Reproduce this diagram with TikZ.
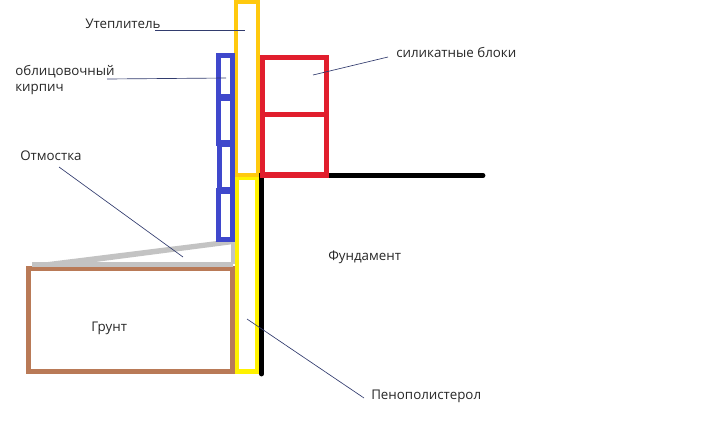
\documentclass[tikz,border=0pt]{standalone}
\usepackage{fontspec}
\setmainfont{Open Sans}
\definecolor{cOrange}{RGB}{255,201,14}
\definecolor{cYellow}{RGB}{255,242,0}
\definecolor{cBlue}{RGB}{63,72,204}
\definecolor{cRed}{RGB}{225,30,45}
\definecolor{cBrown}{RGB}{185,122,87}
\definecolor{cGray}{RGB}{195,195,195}
\definecolor{cLead}{RGB}{50,60,110}
\tikzset{
 lbl/.style={anchor=west,inner sep=0pt,font=\fontsize{10pt}{11pt}\selectfont,text=black!85},
 wall/.style={line width=3.6pt,draw=#1},
 lead/.style={line width=0.5pt,draw=cLead}
}
\begin{document}
\begin{tikzpicture}[x=0.75pt,y=-0.75pt]
\useasboundingbox (0,0) rectangle (712,421);
% ground and blind area
\draw[wall=cBrown,line width=3.8pt] (28.5,268.5) rectangle (232.5,371.5);
\draw[wall=cGray,line width=3.4pt] (32,264.5) -- (233,264.5);
\draw[wall=cGray,line width=2.4pt] (233,241) -- (233,264);
\fill[cGray] (32,264) -- (233,239) -- (234,244) -- (80,264) -- cycle;
% insulation
\draw[wall=cYellow] (237,177.5) rectangle (257,371.5);
\draw[wall=cOrange] (236,2) rectangle (258,175);
% bricks
\draw[wall=cBlue,line width=3.8pt] (218.5,55.5) rectangle (232.5,97);
\draw[wall=cBlue,line width=3.8pt] (218.5,98) rectangle (232.5,143);
\draw[wall=cBlue,line width=3.8pt] (219.5,144) rectangle (232.5,190);
\draw[wall=cBlue,line width=3.8pt] (218.5,191) rectangle (232.5,239.5);
% foundation
\draw[black,line width=3.6pt,line cap=round] (483,175.5) -- (261.5,175.5) -- (261.5,374);
% silicate blocks
\draw[wall=cRed,line width=3.9pt] (262.5,57.5) rectangle (326.5,175);
\draw[wall=cRed,line width=3.9pt] (262.5,114.5) -- (326.5,114.5);
% labels
\node[lbl] (ut) at (85,23.5) {Утеплитель};
\node[lbl] (ob) at (15,71.5) {облицовочный};
\node[lbl] (ki) at (15,89.5) {кирпич};
\node[lbl] (ot) at (20,155.5) {Отмостка};
\node[lbl] (si) at (396,52) {силикатные блоки};
\node[lbl] (fu) at (328,257) {Фундамент};
\node[lbl] (gr) at (91,328.5) {Грунт};
\node[lbl] (pe) at (371,396) {Пенополистерол};
% leader ends
\coordinate (utA) at (155,30);
\coordinate (utB) at (245,30);
\coordinate (obA) at (107,79);
\coordinate (obB) at (226,78);
\coordinate (siA) at (388,57);
\coordinate (siB) at (313,75);
\coordinate (otA) at (59,167);
\coordinate (otB) at (183,257);
\coordinate (peA) at (364,398);
\coordinate (peB) at (247,319);
\draw[lead] (utA) -- (utB);
\draw[lead] (obA) -- (obB);
\draw[lead] (siA) -- (siB);
\draw[lead] (otA) -- (otB);
\draw[lead] (peA) -- (peB);
\end{tikzpicture}
\end{document}
